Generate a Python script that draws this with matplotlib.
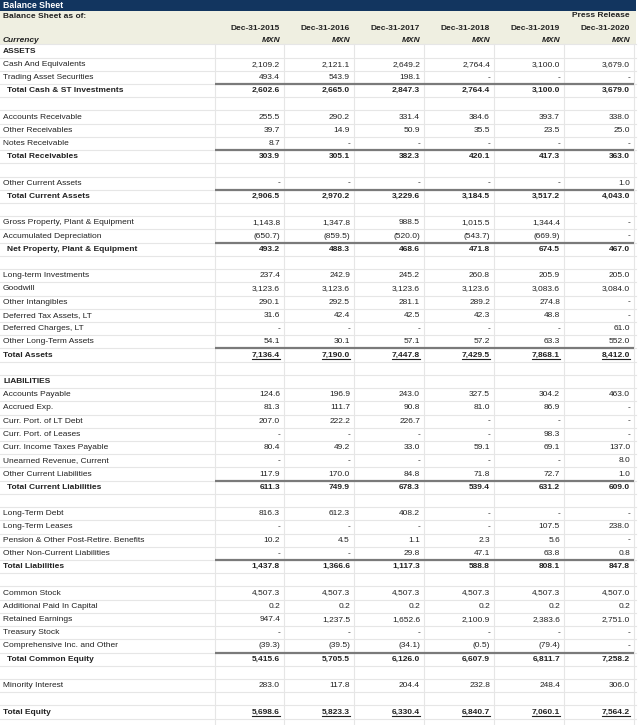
import numpy as np
import matplotlib
matplotlib.use('Agg')
import matplotlib.pyplot as plt

plt.rcParams['font.family'] = ['Liberation Sans', 'DejaVu Sans']

# column headers
years = ['Dec-31-2015', 'Dec-31-2016', 'Dec-31-2017', 'Dec-31-2018', 'Dec-31-2019', 'Dec-31-2020']
currency = 'MXN'

# row labels and row kinds: h = section head, b = blank, n = normal,
# s = subtotal (indented, line above), t = total (line above, underlined),
# l = total (line above), e = total (underlined, no line)
labels = [
    'ASSETS', 'Cash And Equivalents', 'Trading Asset Securities', 'Total Cash & ST Investments', '',
    'Accounts Receivable', 'Other Receivables', 'Notes Receivable', 'Total Receivables', '',
    'Other Current Assets', 'Total Current Assets', '',
    'Gross Property, Plant & Equipment', 'Accumulated Depreciation', 'Net Property, Plant & Equipment', '',
    'Long-term Investments', 'Goodwill', 'Other Intangibles', 'Deferred Tax Assets, LT',
    'Deferred Charges, LT', 'Other Long-Term Assets', 'Total Assets', '',
    'LIABILITIES', 'Accounts Payable', 'Accrued Exp.', 'Curr. Port. of LT Debt', 'Curr. Port. of Leases',
    'Curr. Income Taxes Payable', 'Unearned Revenue, Current', 'Other Current Liabilities',
    'Total Current Liabilities', '',
    'Long-Term Debt', 'Long-Term Leases', 'Pension & Other Post-Retire. Benefits',
    'Other Non-Current Liabilities', 'Total Liabilities', '',
    'Common Stock', 'Additional Paid In Capital', 'Retained Earnings', 'Treasury Stock',
    'Comprehensive Inc. and Other', 'Total Common Equity', '',
    'Minority Interest', '', 'Total Equity',
]
kinds = ('hnnsb' 'nnnsb' 'nsb' 'nnsb' 'nnnnnntb'
         'hnnnnnnnsb' 'nnnnlb' 'nnnnnsb' 'nbe')

_ = None  # '-' in the table (also blank rows)
y2015 = [_, 2109.2, 493.4, 2602.6, _, 255.5, 39.7, 8.7, 303.9, _, _, 2906.5, _,
         1143.8, -650.7, 493.2, _, 237.4, 3123.6, 290.1, 31.6, _, 54.1, 7136.4, _,
         _, 124.6, 81.3, 207.0, _, 80.4, _, 117.9, 611.3, _, 816.3, _, 10.2, _, 1437.8, _,
         4507.3, 0.2, 947.4, _, -39.3, 5415.6, _, 283.0, _, 5698.6]
y2016 = [_, 2121.1, 543.9, 2665.0, _, 290.2, 14.9, _, 305.1, _, _, 2970.2, _,
         1347.8, -859.5, 488.3, _, 242.9, 3123.6, 292.5, 42.4, _, 30.1, 7190.0, _,
         _, 196.9, 111.7, 222.2, _, 49.2, _, 170.0, 749.9, _, 612.3, _, 4.5, _, 1366.6, _,
         4507.3, 0.2, 1237.5, _, -39.5, 5705.5, _, 117.8, _, 5823.3]
y2017 = [_, 2649.2, 198.1, 2847.3, _, 331.4, 50.9, _, 382.3, _, _, 3229.6, _,
         988.5, -520.0, 468.6, _, 245.2, 3123.6, 281.1, 42.5, _, 57.1, 7447.8, _,
         _, 243.0, 90.8, 226.7, _, 33.0, _, 84.8, 678.3, _, 408.2, _, 1.1, 29.8, 1117.3, _,
         4507.3, 0.2, 1652.6, _, -34.1, 6126.0, _, 204.4, _, 6330.4]
y2018 = [_, 2764.4, _, 2764.4, _, 384.6, 35.5, _, 420.1, _, _, 3184.5, _,
         1015.5, -543.7, 471.8, _, 260.8, 3123.6, 289.2, 42.3, _, 57.2, 7429.5, _,
         _, 327.5, 81.0, _, _, 59.1, _, 71.8, 539.4, _, _, _, 2.3, 47.1, 588.8, _,
         4507.3, 0.2, 2100.9, _, -0.5, 6607.9, _, 232.8, _, 6840.7]
y2019 = [_, 3100.0, _, 3100.0, _, 393.7, 23.5, _, 417.3, _, _, 3517.2, _,
         1344.4, -669.9, 674.5, _, 205.9, 3083.6, 274.8, 48.8, _, 63.3, 7868.1, _,
         _, 304.2, 86.9, _, 98.3, 69.1, _, 72.7, 631.2, _, _, 107.5, 5.6, 63.8, 808.1, _,
         4507.3, 0.2, 2383.6, _, -79.4, 6811.7, _, 248.4, _, 7060.1]
y2020 = [_, 3679.0, _, 3679.0, _, 338.0, 25.0, _, 363.0, _, 1.0, 4043.0, _,
         _, _, 467.0, _, 205.0, 3084.0, _, _, 61.0, 552.0, 8412.0, _,
         _, 463.0, _, _, _, 137.0, 8.0, 1.0, 609.0, _, _, 238.0, _, 0.8, 847.8, _,
         4507.0, 0.2, 2751.0, _, _, 7258.2, _, 306.0, _, 7564.2]
columns = [y2015, y2016, y2017, y2018, y2019, y2020]


def fmt(v):
    if v is None:
        return '-'
    s = '{:,.1f}'.format(abs(v))
    return '(%s)' % s if v < 0 else s


W, H = 640, 725
fig = plt.figure(figsize=(W / 100, H / 100), dpi=100)
ax = fig.add_axes([0, 0, 1, 1])
ax.set_xlim(0, W)
ax.set_ylim(H, 0)
ax.axis('off')

navy = '#12355f'
beige = '#efefe1'
grid = '#e6e6e6'
txt = '#222222'
fs = 6.0

col_edges = [215, 284, 354, 424, 494, 564, 634]
row0 = 51.0
rh = 13.22
top = row0 - rh / 2

# title bar and header band
ax.add_patch(plt.Rectangle((0, 0), 636, 10.5, color=navy, lw=0))
ax.add_patch(plt.Rectangle((0, 10.5), 636, top - 10.5, color=beige, lw=0))
ax.text(3, 5.5, 'Balance Sheet', color='white', fontsize=fs + 0.3, fontweight='bold', va='center')
ax.text(3, 16.5, 'Balance Sheet as of:', color=txt, fontsize=fs, fontweight='bold', va='center')
ax.text(3, 40, 'Currency', color=txt, fontsize=fs, fontweight='bold', style='italic', va='center')
for j, yr in enumerate(years):
    xr = col_edges[j + 1] - 4
    ax.text(xr, 28, yr, color=txt, fontsize=fs, fontweight='bold', ha='right', va='center')
    ax.text(xr, 40, currency, color=txt, fontsize=fs, fontweight='bold', style='italic',
            ha='right', va='center')
ax.text(col_edges[-1] - 4, 15.5, 'Press Release', color=txt, fontsize=fs, fontweight='bold',
        ha='right', va='center')

n = len(labels)
bottom = H
# grid
for i in range(n + 1):
    yb = top + i * rh
    ax.plot([0, 636], [yb, yb], color=grid, lw=0.8, zorder=1)
for xe in col_edges:
    ax.plot([xe, xe], [top, bottom], color=grid, lw=0.8, zorder=1)

fig.canvas.draw()
renderer = fig.canvas.get_renderer()
inv = ax.transData.inverted()

for i, (lab, k) in enumerate(zip(labels, kinds)):
    yc = row0 + i * rh
    if k == 'b':
        continue
    bold = k in 'hstle'
    x0 = 7 if k == 's' else 3
    ax.text(x0, yc, lab, color=txt, fontsize=fs, fontweight='bold' if bold else 'normal',
            va='center', zorder=3)
    if k == 'h':
        continue
    if k in 'stl':
        ax.plot([col_edges[0], col_edges[-1]], [yc - rh / 2, yc - rh / 2], color='#7a7a7a',
                lw=1.6, zorder=2, solid_capstyle='butt')
    for j, col in enumerate(columns):
        xr = col_edges[j + 1] - 4
        t = ax.text(xr, yc, fmt(col[i]), color=txt, fontsize=fs,
                    fontweight='bold' if bold else 'normal', ha='right', va='center', zorder=3)
        if k in 'te':
            bb = t.get_window_extent(renderer)
            (xa, ya), (xb, yb2) = inv.transform([[bb.x0, bb.y0], [bb.x1, bb.y1]])
            ax.plot([xa, xb], [yc + 3.9, yc + 3.9], color=txt, lw=0.8, zorder=3)

fig.savefig('out.png', dpi=100)
